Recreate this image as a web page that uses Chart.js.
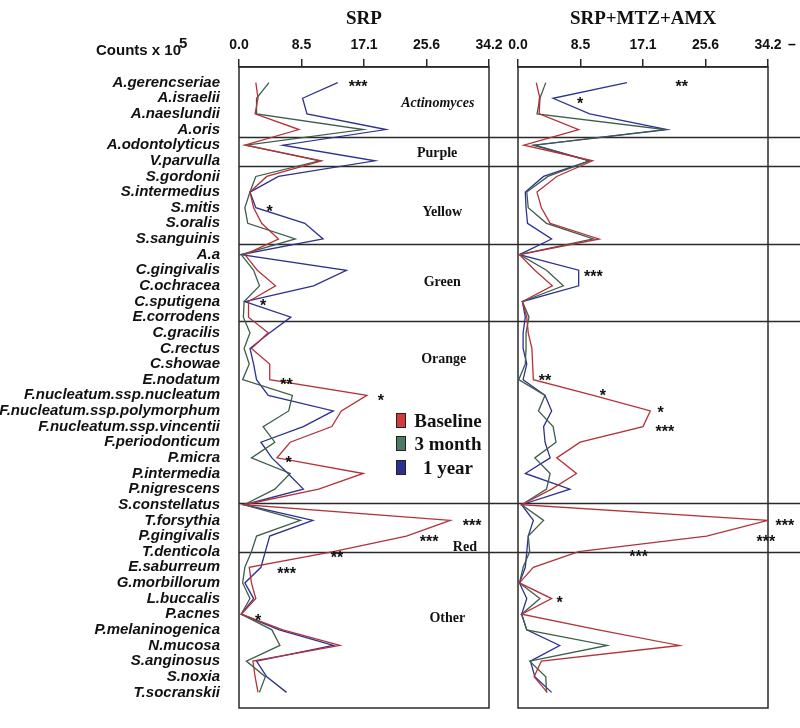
<!DOCTYPE html>
<html>
<head>
<meta charset="utf-8">
<title>SRP vs SRP+MTZ+AMX</title>
<script src="https://cdn.jsdelivr.net/npm/chart.js@4.4.1/dist/chart.umd.min.js"></script>
<style>
    html, body { margin: 0; padding: 0; background: #fff; }
    #page { position: relative; width: 800px; height: 728px; overflow: hidden; }
    .panel { position: absolute; top: 0; height: 728px; }
    #srpWrap { left: 0; width: 520px; }
    #combWrap { left: 500px; width: 300px; }
    .counts { position: absolute; left: 96px; top: 41px; line-height: 18px;
              font: bold 15px "Liberation Sans", Arial, sans-serif; color: #111; }
    .counts .sup { position: relative; top: -7px; margin-left: -2px; }
    .dash { position: absolute; left: 788px; top: 36px; font: bold 14px "Liberation Sans", Arial, sans-serif; }
    .legend-box { position: absolute; left: 396px; width: 10px; height: 15px; box-sizing: border-box;
                  border: 1px solid #222; }
    .legend-text { position: absolute; left: 412px; width: 72px; text-align: center; line-height: 22px;
                   font: bold 19px "Liberation Serif", "Times New Roman", serif; color: #111; }
</style>
</head>
<body>
<div id="page">
    <div class="panel" id="srpWrap"><canvas id="srpChart"></canvas></div>
    <div class="panel" id="combWrap"><canvas id="combChart"></canvas></div>
    <div class="counts">Counts x 10<span class="sup">5</span></div>
    <div class="dash">–</div>
    <div id="legend"></div>
</div>
<script>
// ========================================
// Données
// ========================================
const species = [
    'A.gerencseriae', 'A.israelii', 'A.naeslundii', 'A.oris', 'A.odontolyticus',
    'V.parvulla', 'S.gordonii', 'S.intermedius', 'S.mitis', 'S.oralis',
    'S.sanguinis', 'A.a', 'C.gingivalis', 'C.ochracea', 'C.sputigena',
    'E.corrodens', 'C.gracilis', 'C.rectus', 'C.showae', 'E.nodatum',
    'F.nucleatum.ssp.nucleatum', 'F.nucleatum.ssp.polymorphum', 'F.nucleatum.ssp.vincentii',
    'F.periodonticum', 'P.micra', 'P.intermedia', 'P.nigrescens', 'S.constellatus',
    'T.forsythia', 'P.gingivalis', 'T.denticola', 'E.saburreum', 'G.morbillorum',
    'L.buccalis', 'P.acnes', 'P.melaninogenica', 'N.mucosa', 'S.anginosus',
    'S.noxia', 'T.socranskii'
];

const xTickLabels = ['0.0', '8.5', '17.1', '25.6', '34.2'];
const seriesNames = ['Baseline', '3 month', '1 year'];

// SRP
const srpBaseline = [2.3, 2.6, 2.2, 8.2, 0.8, 11.3, 3.8, 1.5, 2.0, 3.1,
    5.4, 0.8, 2.5, 5.0, 1.3, 1.3, 4.0, 1.7, 4.2, 4.2,
    17.5, 14.0, 12.7, 7.0, 5.2, 17.0, 10.9, 0.7, 28.9, 22.9,
    12.9, 1.4, 1.7, 2.3, 0.3, 6.0, 13.8, 1.9, 2.2, 2.6];
const srp3Month = [4.1, 2.4, 2.4, 17.0, 1.0, 11.0, 2.3, 1.5, 0.8, 1.2,
    7.7, 0.3, 2.0, 2.8, 0.7, 0.6, 1.5, 0.7, 1.4, 0.5,
    7.3, 6.8, 3.3, 4.9, 1.7, 7.0, 4.9, 0.7, 8.4, 2.4,
    1.7, 0.8, 0.5, 1.5, 0.3, 4.5, 5.6, 1.0, 3.6, 2.8];
const srp1Year = [13.5, 8.7, 9.3, 20.1, 6.0, 18.6, 5.4, 1.5, 2.3, 9.0,
    11.5, 0.3, 14.7, 10.2, 0.8, 7.1, 4.2, 1.5, 2.0, 2.4,
    4.0, 12.9, 8.8, 3.0, 4.5, 6.7, 8.8, 0.7, 10.1, 4.2,
    3.6, 3.0, 0.8, 2.0, 0.3, 5.5, 12.9, 2.4, 3.8, 6.5];

// SRP+MTZ+AMX
const combBaseline = [2.5, 3.0, 2.9, 8.3, 0.8, 10.2, 5.3, 2.6, 3.2, 4.4,
    11.1, 0.2, 2.3, 4.7, 0.6, 1.2, 1.4, 1.9, 2.0, 2.1,
    10.3, 18.1, 17.1, 8.5, 5.3, 8.0, 4.6, 0.5, 34.2, 25.8,
    8.3, 2.1, 0.2, 4.6, 0.5, 11.0, 22.1, 3.2, 2.2, 4.0];
const comb3Month = [3.8, 3.0, 2.6, 20.1, 2.1, 9.8, 4.1, 1.2, 1.4, 3.9,
    10.3, 0.2, 3.9, 6.2, 0.6, 1.5, 1.1, 1.1, 1.0, 0.1,
    3.7, 2.8, 4.8, 5.2, 2.3, 4.4, 3.9, 0.5, 3.5, 1.4,
    1.6, 0.7, 0.2, 3.0, 0.5, 1.2, 12.2, 1.6, 3.8, 3.9];
const comb1Year = [14.9, 4.8, 9.8, 20.4, 2.3, 9.8, 3.5, 1.0, 1.1, 1.3,
    4.6, 0.2, 8.3, 8.3, 0.6, 1.0, 0.7, 0.7, 1.2, 0.7,
    3.7, 4.6, 3.5, 3.7, 4.4, 1.0, 7.1, 0.5, 2.1, 1.4,
    1.2, 1.0, 0.2, 1.2, 0.5, 1.2, 5.7, 1.7, 2.3, 4.6];

const X_MAX = parseFloat(xTickLabels[xTickLabels.length - 1]);
const lineColors = ['#b3323a', '#3e5e4b', '#2d318f'];
const boxColors = ['#d03b3b', '#4b7b62', '#2c3190'];
const SANS = '"Liberation Sans", Arial, sans-serif';
const SERIF = '"Liberation Serif", "Times New Roman", serif';

// ========================================
// Plugin : cadre, séparateurs, étoiles, groupes
// ========================================
const panelDecor = {
    id: 'panelDecor',
    beforeDatasetsDraw(chart, args, opts) {
        const { ctx, chartArea: a, scales: { y } } = chart;
        ctx.save();
        ctx.strokeStyle = '#2a2a2a';
        ctx.lineWidth = 1.5;
        ctx.strokeRect(a.left, a.top, a.right - a.left, a.bottom - a.top);
        (opts.separators || []).forEach(v => {
            const py = Math.round(y.getPixelForValue(v)) + 0.5;
            ctx.beginPath();
            ctx.moveTo(opts.lineFrom === 'canvas' ? 0 : a.left, py);
            ctx.lineTo(opts.lineTo, py);
            ctx.stroke();
        });
        ctx.restore();
    },
    afterDatasetsDraw(chart, args, opts) {
        const { ctx, scales: { x, y } } = chart;
        ctx.save();
        ctx.fillStyle = '#111';
        ctx.textAlign = 'center';
        // Étoiles de significativité
        ctx.font = 'bold 16px ' + SANS;
        ctx.textBaseline = 'alphabetic';
        (opts.stars || []).forEach(([vx, vy, txt]) => {
            ctx.fillText(txt, x.getPixelForValue(vx), y.getPixelForValue(vy) + 9);
        });
        // Noms des complexes
        ctx.textBaseline = 'middle';
        (opts.groups || []).forEach(([txt, vx, vy, italic]) => {
            ctx.font = (italic ? 'italic ' : '') + 'bold 14px ' + SERIF;
            ctx.fillText(txt, x.getPixelForValue(vx), y.getPixelForValue(vy));
        });
        ctx.restore();
    }
};

/**
 * Créer un panneau (une période de traitement)
 * @param {string} canvasId - ID du canvas
 * @param {string} title - Titre du panneau
 * @param {Array} series - Trois séries de valeurs
 * @param {Object} decor - Options du plugin
 * @param {boolean} showLabels - Afficher les espèces
 */
function renderPanel(canvasId, title, series, decor, showLabels) {
    const ctx = document.getElementById(canvasId);
    if (!ctx) return null;

    const datasets = series.map((values, s) => ({
        label: seriesNames[s],
        data: values.map((v, i) => ({ x: v, y: i })),
        borderColor: lineColors[s],
        backgroundColor: lineColors[s],
        borderWidth: 1.3,
        pointRadius: 0,
        tension: 0,
        fill: false
    }));

    const yAxis = {
        type: 'linear',
        display: showLabels,
        reverse: true,
        min: -1,
        max: species.length,
        afterBuildTicks: scale => {
            scale.ticks = species.map((_, i) => ({ value: i }));
        },
        ticks: {
            callback: (v, i) => species[i],
            autoSkip: false,
            padding: 11,
            color: '#111',
            font: { family: SANS, size: 15, style: 'italic', weight: 'bold' }
        },
        grid: { display: false },
        border: { display: false }
    };
    // Largeur fixe de la colonne des espèces
    if (showLabels) {
        yAxis.afterFit = scale => { scale.width = 239; };
    }

    return new Chart(ctx, {
        type: 'line',
        data: { datasets: datasets },
        options: {
            responsive: true,
            maintainAspectRatio: false,
            animation: false,
            indexAxis: 'y',
            layout: {
                padding: showLabels
                    ? { top: 0, left: 0, right: 31, bottom: 20 }
                    : { top: 0, left: 18, right: 32, bottom: 20 }
            },
            plugins: {
                legend: { display: false },
                tooltip: { enabled: false },
                title: {
                    display: true,
                    text: title,
                    fullSize: false,
                    color: '#111',
                    font: { family: SERIF, size: 19, weight: 'bold' },
                    padding: { top: 8, bottom: 0 }
                },
                panelDecor: decor
            },
            scales: {
                x: {
                    type: 'linear',
                    position: 'top',
                    min: 0,
                    max: X_MAX,
                    afterBuildTicks: scale => {
                        scale.ticks = xTickLabels.map((_, i) => ({ value: X_MAX * i / (xTickLabels.length - 1) }));
                    },
                    afterFit: scale => { scale.height = 36.2; },
                    ticks: {
                        callback: (v, i) => xTickLabels[i],
                        autoSkip: false,
                        maxRotation: 0,
                        padding: 5,
                        color: '#111',
                        font: { family: SANS, size: 14, weight: 'bold' }
                    },
                    grid: { drawOnChartArea: false, tickLength: 8, color: '#2a2a2a', lineWidth: 1.5 },
                    border: { color: '#2a2a2a', width: 1.5 }
                },
                y: yAxis
            }
        },
        plugins: [panelDecor]
    });
}

const separators = [3.45, 5.35, 10.35, 15.25, 26.9, 30.0];

renderPanel('srpChart', 'SRP', [srpBaseline, srp3Month, srp1Year], {
    separators: separators,
    lineFrom: 'area',
    lineTo: 500,
    stars: [
        [16.3, 0.05, '***'], [4.2, 8.0, '*'], [3.3, 14.05, '*'], [6.5, 19.1, '**'],
        [19.4, 20.1, '*'], [6.8, 24.1, '*'], [31.9, 28.1, '***'], [26.0, 29.15, '***'],
        [13.4, 30.15, '**'], [6.5, 31.2, '***'], [2.6, 34.2, '*']
    ],
    groups: [
        ['Actinomyces', 27.2, 1.35, true], ['Purple', 27.1, 4.55], ['Yellow', 27.8, 8.33],
        ['Green', 27.8, 12.76], ['Orange', 28.0, 17.7], ['Red', 30.9, 29.7], ['Other', 28.5, 34.3]
    ]
}, true);

renderPanel('combChart', 'SRP+MTZ+AMX', [combBaseline, comb3Month, comb1Year], {
    separators: separators,
    lineFrom: 'canvas',
    lineTo: 300,
    stars: [
        [22.4, 0.0, '**'], [8.5, 1.13, '*'], [10.3, 12.2, '***'], [3.7, 18.8, '**'],
        [11.6, 19.8, '*'], [19.5, 20.9, '*'], [20.1, 22.1, '***'], [36.5, 28.1, '***'],
        [33.9, 29.1, '***'], [16.5, 30.1, '***'], [5.7, 33.0, '*']
    ],
    groups: []
}, false);

// Légende
const legend = document.getElementById('legend');
const legendTops = [413, 436, 460];
seriesNames.forEach((name, i) => {
    const box = document.createElement('div');
    box.className = 'legend-box';
    box.style.top = legendTops[i] + 'px';
    box.style.background = boxColors[i];
    legend.appendChild(box);
    const txt = document.createElement('div');
    txt.className = 'legend-text';
    txt.style.top = (legendTops[i] - 3) + 'px';
    txt.textContent = name;
    legend.appendChild(txt);
});
</script>
</body>
</html>
